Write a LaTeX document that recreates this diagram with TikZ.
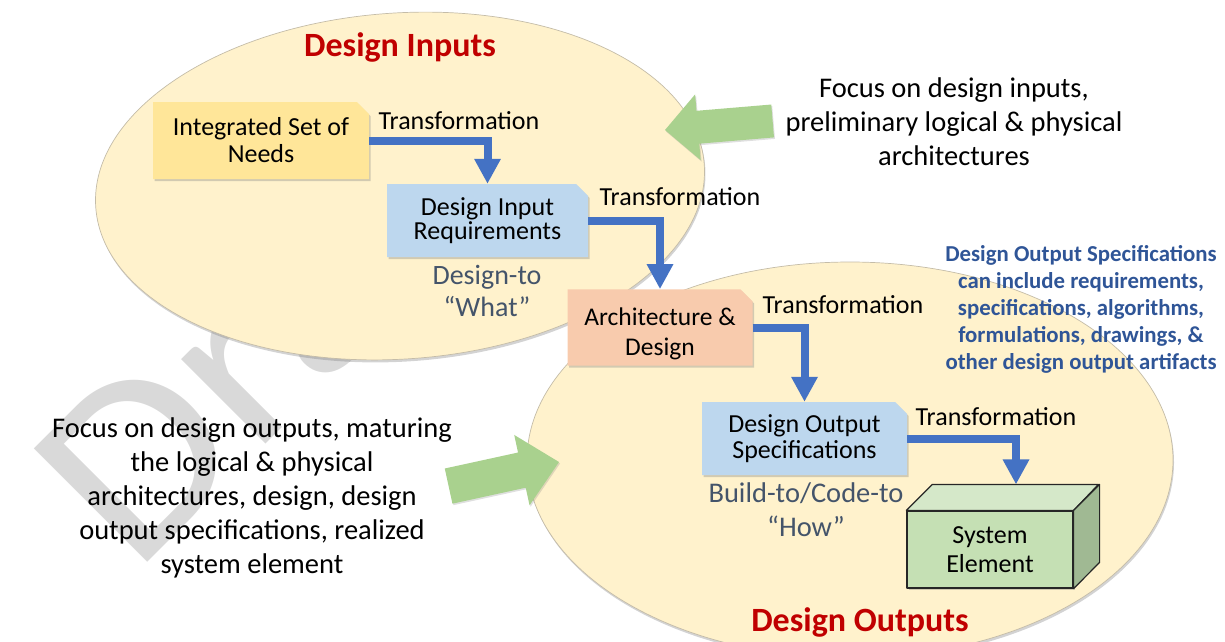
\documentclass[tikz,border=0pt]{standalone}
\usepackage{fontspec}
\usepackage{graphicx}
\setmainfont{Carlito}
\usetikzlibrary{shapes.geometric,shapes.misc,shadows,arrows.meta,calc}
\definecolor{ellfill}{HTML}{FFF2CC}
\definecolor{ellline}{HTML}{C4BCA8}
\definecolor{needfill}{HTML}{FFE699}
\definecolor{reqfill}{HTML}{BDD7EE}
\definecolor{archfill}{HTML}{F8CBAD}
\definecolor{flowblue}{HTML}{4472C4}
\definecolor{greenarr}{HTML}{A9D18E}
\definecolor{titlered}{HTML}{C00000}
\definecolor{noteblue}{HTML}{2F5597}
\definecolor{slate}{HTML}{44546A}
\definecolor{cubefront}{HTML}{C5E0B4}
\definecolor{cubetop}{HTML}{D5E8C9}
\definecolor{cubeside}{HTML}{A0B993}
\definecolor{wmgray}{HTML}{D9D9D9}
\begin{document}
\begin{tikzpicture}[x=1pt,y=-1pt,
  wmark/.style={text=wmgray, inner sep=0pt, font={\fontsize{250}{250}\selectfont}},
  ellnode/.style={ellipse, draw=ellline, line width=0.7pt, fill=ellfill, inner sep=0pt,
    drop shadow={opacity=0.35, shadow xshift=1pt, shadow yshift=-2.5pt}},
  box/.style={chamfered rectangle, chamfered rectangle corners=north east,
    chamfered rectangle xsep=6pt, chamfered rectangle ysep=6pt,
    inner sep=0pt, align=center, font={\fontsize{26}{26}\selectfont},
    drop shadow={opacity=0.35, shadow xshift=1.5pt, shadow yshift=-2pt}},
  flow/.style={draw=flowblue, line width=8pt, -{Triangle[width=25pt,length=25pt]}},
  tlabel/.style={font={\fontsize{26}{26}\selectfont}, inner sep=0pt},
  title/.style={text=titlered, font={\fontsize{34}{36}\selectfont\bfseries}, inner sep=0pt},
  slatetext/.style={text=slate, align=center, inner sep=0pt},
  focus/.style={align=center, inner sep=0pt, font={\fontsize{28.5}{34}\selectfont}},
  garrow/.style={fill=greenarr, drop shadow={opacity=0.25, shadow xshift=1pt, shadow yshift=-1.5pt}},
  cubeline/.style={draw=black!85, line width=1.2pt, line join=round}
]
\useasboundingbox (0,0) rectangle (1225,641);

% watermark
\node[wmark, anchor=base west, rotate=45] (wm) at (134,576) {\scalebox{1.1}[1]{Draft}};

% ellipses
\node[ellnode, rotate=4, minimum width=610pt, minimum height=346pt] (inEll) at (400,186) {};
\node[ellnode, minimum width=646pt, minimum height=396pt] (outEll) at (850,460) {};

% titles
\node[title] (tin) at (400,47) {Design Inputs};
\node[title] (tout) at (860,622) {Design Outputs};

% boxes
\node[box, fill=needfill, minimum width=216pt, minimum height=77pt,
  font={\fontsize{26}{27}\selectfont}] (isn) at (261,140.5) {Integrated Set of\\Needs};
\node[box, fill=reqfill, minimum width=201pt, minimum height=73pt,
  font={\fontsize{26}{24}\selectfont}] (dir) at (487.5,220.5) {Design Input\\Requirements};
\node[box, fill=archfill, minimum width=185pt, minimum height=75pt,
  font={\fontsize{25.5}{30}\selectfont}] (arch) at (660,327.5) {\rule{0pt}{30pt}Architecture \&\\Design};
\node[box, fill=reqfill, minimum width=205pt, minimum height=73pt,
  font={\fontsize{26}{26}\selectfont}] (dos) at (804.5,438.5) {Design Output\\Specifications};

% system element cube
\node[rectangle, fill=cubefront, cubeline, minimum width=166pt, minimum height=77pt,
  inner sep=0pt, align=center, font={\fontsize{26}{29}\selectfont},
  drop shadow={opacity=0.35, shadow xshift=1.5pt, shadow yshift=-2pt}] (sys) at (990,549.5) {System\\Element};
\draw[cubeline, fill=cubetop] (sys.north west) -- ++(26,-26) -- ++(166,0) -- (sys.north east) -- cycle;
\draw[cubeline, fill=cubeside] (sys.north east) -- ++(26,-26) -- ++(0,78) -- (sys.south east) -- cycle;
\coordinate (cubetopc) at ($(sys.north)+(26,-26)$);

% flow arrows
\draw[flow] (isn.east) -| (dir.north);
\draw[flow] (dir.east) -| (arch.north);
\draw[flow] (arch.east) -| (dos.north);
\draw[flow] (dos.east) -| (cubetopc);

% transformation labels
\node[tlabel] (t1) at (459,121) {Transformation};
\node[tlabel] (t2) at (680,197) {Transformation};
\node[tlabel] (t3) at (843,305) {Transformation};
\node[tlabel] (t4) at (996,417) {Transformation};

% design-to / build-to
\node[slatetext, font={\fontsize{28}{32}\selectfont}] (dto) at (487,291) {Design-to\\“What”};
\node[slatetext, font={\fontsize{28.5}{34}\selectfont}] (bto) at (806,510) {Build-to/Code-to\\“How”};

% blue note
\node[align=center, inner sep=0pt, text=noteblue, font={\fontsize{22.8}{27}\selectfont\bfseries}] (note) at (1081,309)
  {Design Output Specifications\\can include requirements,\\specifications, algorithms,\\formulations, drawings, \&\\other design output artifacts};

% focus texts
\node[focus] (ftop) at (954,122) {Focus on design inputs,\\preliminary logical \& physical\\architectures};
\node[focus] (fleft) at (252,498) {Focus on design outputs, maturing\\the logical \& physical\\architectures, design, design\\output specifications, realized\\system element};

% green block arrows (tip at origin, pointing along +x)
\begin{scope}[shift={(665,130)}, rotate=184.8]
  \path[garrow] (0,0) -- (-33,33) -- (-33,16.5) -- (-108,16.5) -- (-108,-16.5) -- (-33,-16.5) -- (-33,-33) -- cycle;
\end{scope}
\begin{scope}[shift={(559,462)}, rotate=12.3]
  \path[garrow] (0,0) -- (-38,36) -- (-38,18) -- (-113,18) -- (-113,-18) -- (-38,-18) -- (-38,-36) -- cycle;
\end{scope}
\end{tikzpicture}
\end{document}
